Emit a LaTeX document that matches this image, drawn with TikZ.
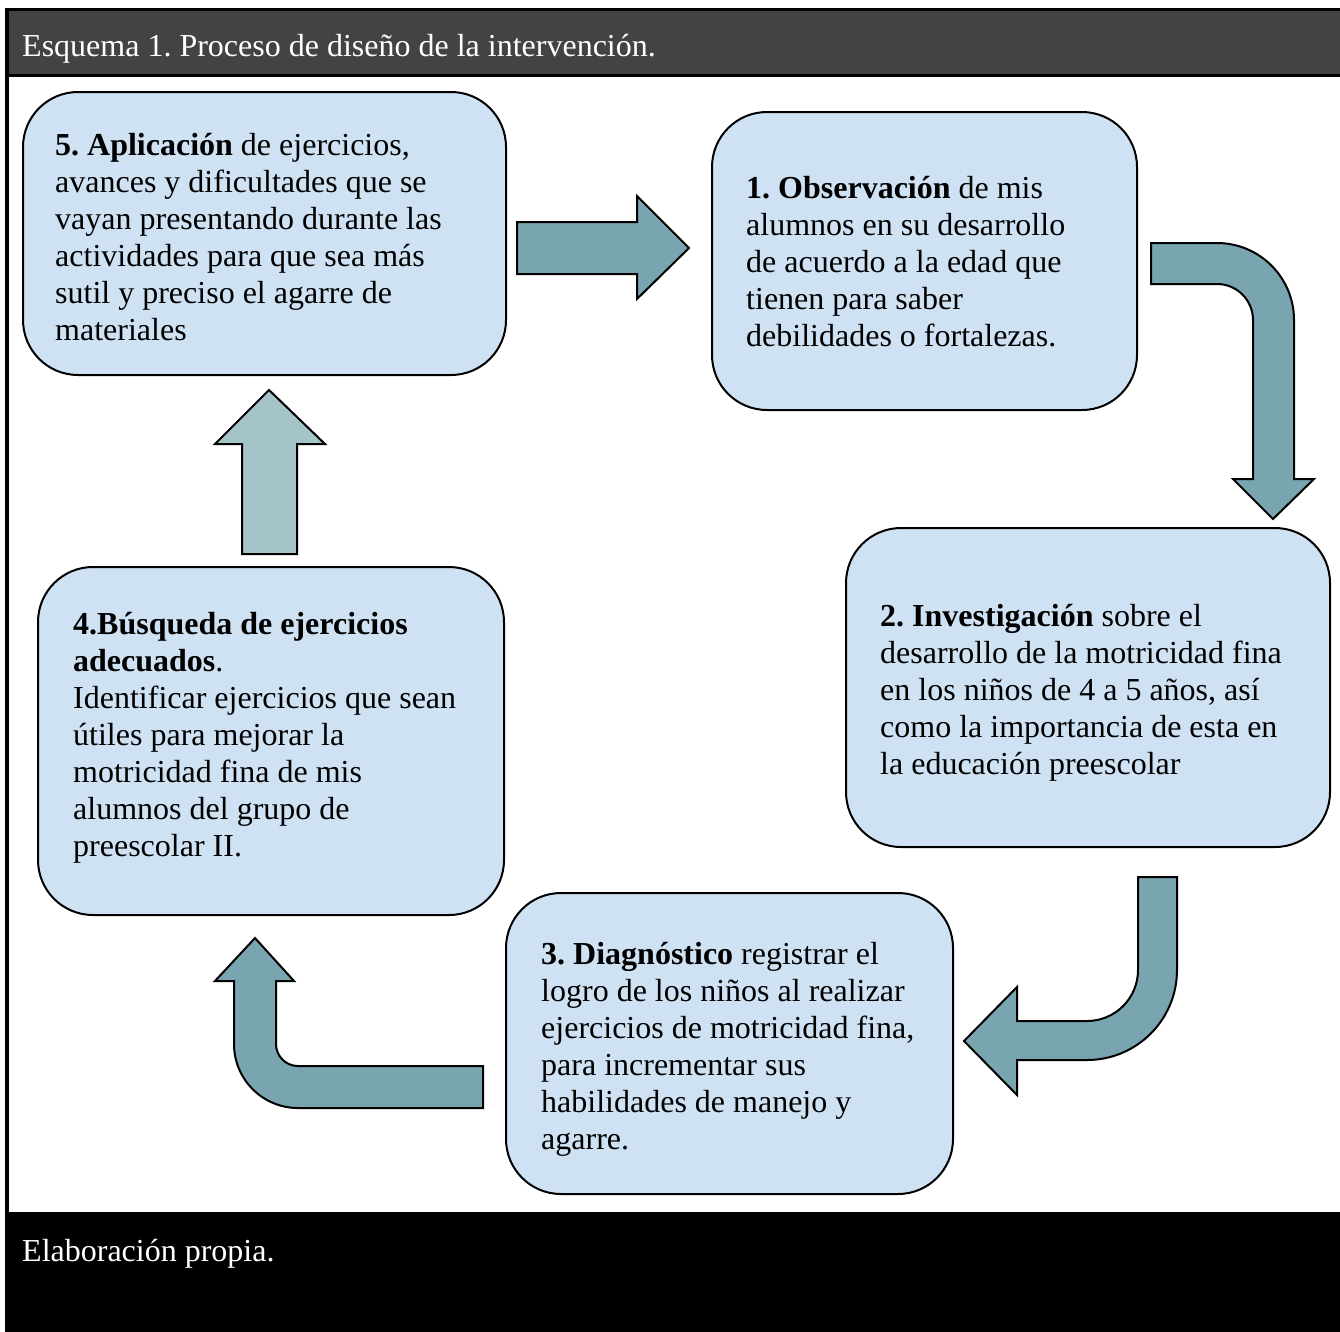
\documentclass[tikz,border=0pt]{standalone}
\usepackage{fontspec}
\setmainfont{Liberation Serif}
\usepackage{tikz}
\usetikzlibrary{calc}
\definecolor{azulcaja}{RGB}{207,226,243}
\definecolor{flecha}{RGB}{120,165,175}
\definecolor{flechaclara}{RGB}{165,196,201}
\definecolor{grisenc}{RGB}{67,67,67}
\newcommand{\letra}{\fontsize{32}{37}\selectfont}
\frenchspacing

\begin{document}
\begin{tikzpicture}[x=1pt, y=-1pt,
    caja/.style = {draw=black, line width=2pt, fill=azulcaja, rounded corners=55pt, inner sep=0pt, anchor=north west},
    texto/.style = {font=\letra, align=left, inner sep=0pt, anchor=north west},
    bloque/.style = {draw=black, line width=2pt, fill=flecha, line join=miter}]
    % Parametri
    \pgfmathsetmacro{\ancho}{1340}
    \pgfmathsetmacro{\alto}{1331}
    \useasboundingbox (0,0) rectangle (\ancho,\alto);
    % Marco
    \fill[black] (5,8) rectangle (1350,1340);
    \fill[white] (9,77) rectangle (1350,1212);
    \fill[grisenc] (9,11) rectangle (1350,74);
    \node[font=\letra, text=white, anchor=base west, inner sep=0pt] (titulo) at (22,56) {Esquema 1. Proceso de diseño de la intervención.};
    \node[font=\letra, text=white, anchor=base west, inner sep=0pt] (fuente) at (22,1261) {Elaboración propia.};
    % Cajas
    \node[caja, minimum width=483pt, minimum height=283pt] (c5) at (22,91) {};
    \node[caja, minimum width=425pt, minimum height=298pt] (c1) at (711,111) {};
    \node[caja, minimum width=484pt, minimum height=319pt] (c2) at (845,527) {};
    \node[caja, minimum width=466pt, minimum height=348pt] (c4) at (37,566) {};
    \node[caja, minimum width=447pt, minimum height=301pt] (c3) at (505,892) {};
    % Testi
    \node[texto] (t5) at (55,129) {\strut\textbf{5. Aplicación} de ejercicios,\\ avances y dificultades que se\\ vayan presentando durante las\\ actividades para que sea más\\ sutil y preciso el agarre de\\ materiales};
    \node[texto] (t1) at (746,172) {\strut\textbf{1. Observación} de mis\\ alumnos en su desarrollo\\ de acuerdo a la edad que\\ tienen para saber\\ debilidades o fortalezas.};
    \node[texto] (t2) at (880,600) {\strut\textbf{2. Investigación} sobre el\\ desarrollo de la motricidad fina\\ en los niños de 4 a 5 años, así\\ como la importancia de esta en\\ la educación preescolar};
    \node[texto] (t4) at (73,608) {\strut\textbf{4.Búsqueda de ejercicios}\\ \textbf{adecuados}.\\ Identificar ejercicios que sean\\ útiles para mejorar la\\ motricidad fina de mis\\ alumnos del grupo de\\ preescolar II.};
    \node[texto] (t3) at (541,938) {\strut\textbf{3. Diagnóstico} registrar el\\ logro de los niños al realizar\\ ejercicios de motricidad fina,\\ para incrementar sus\\ habilidades de manejo y\\ agarre.};
    % Frecce
    % 5 -> 1
    \draw[bloque] (517,222) -- (637,222) -- (637,196) -- (689,248) -- (637,299) -- (637,274) -- (517,274) -- cycle;
    % 1 -> 2
    \draw[bloque] (1151,243) -- (1217,243) arc[start angle=-90, end angle=0, radius=77]
        -- (1294,479) -- (1314,479) -- (1273,519) -- (1233,479) -- (1253,479) -- (1253,320)
        arc[start angle=0, end angle=-90, radius=36] -- (1151,284) -- cycle;
    % 2 -> 3
    \draw[bloque] (1138,877) -- (1177,877) -- (1177,970) arc[start angle=0, end angle=90, radius=90]
        -- (1017,1060) -- (1017,1095) -- (964,1041) -- (1017,987) -- (1017,1021) -- (1087,1021)
        arc[start angle=90, end angle=0, radius=51] -- cycle;
    % 3 -> 4
    \draw[bloque] (483,1066) -- (298,1066) arc[start angle=90, end angle=180, radius=22]
        -- (276,981) -- (294,981) -- (255,938) -- (215,981) -- (234,981) -- (234,1044)
        arc[start angle=180, end angle=90, radius=64] -- (483,1108) -- cycle;
    % 4 -> 5
    \draw[bloque, fill=flechaclara] (242,554) -- (242,444) -- (215,444) -- (269,390) -- (325,444) -- (297,444) -- (297,554) -- cycle;
\end{tikzpicture}
\end{document}
